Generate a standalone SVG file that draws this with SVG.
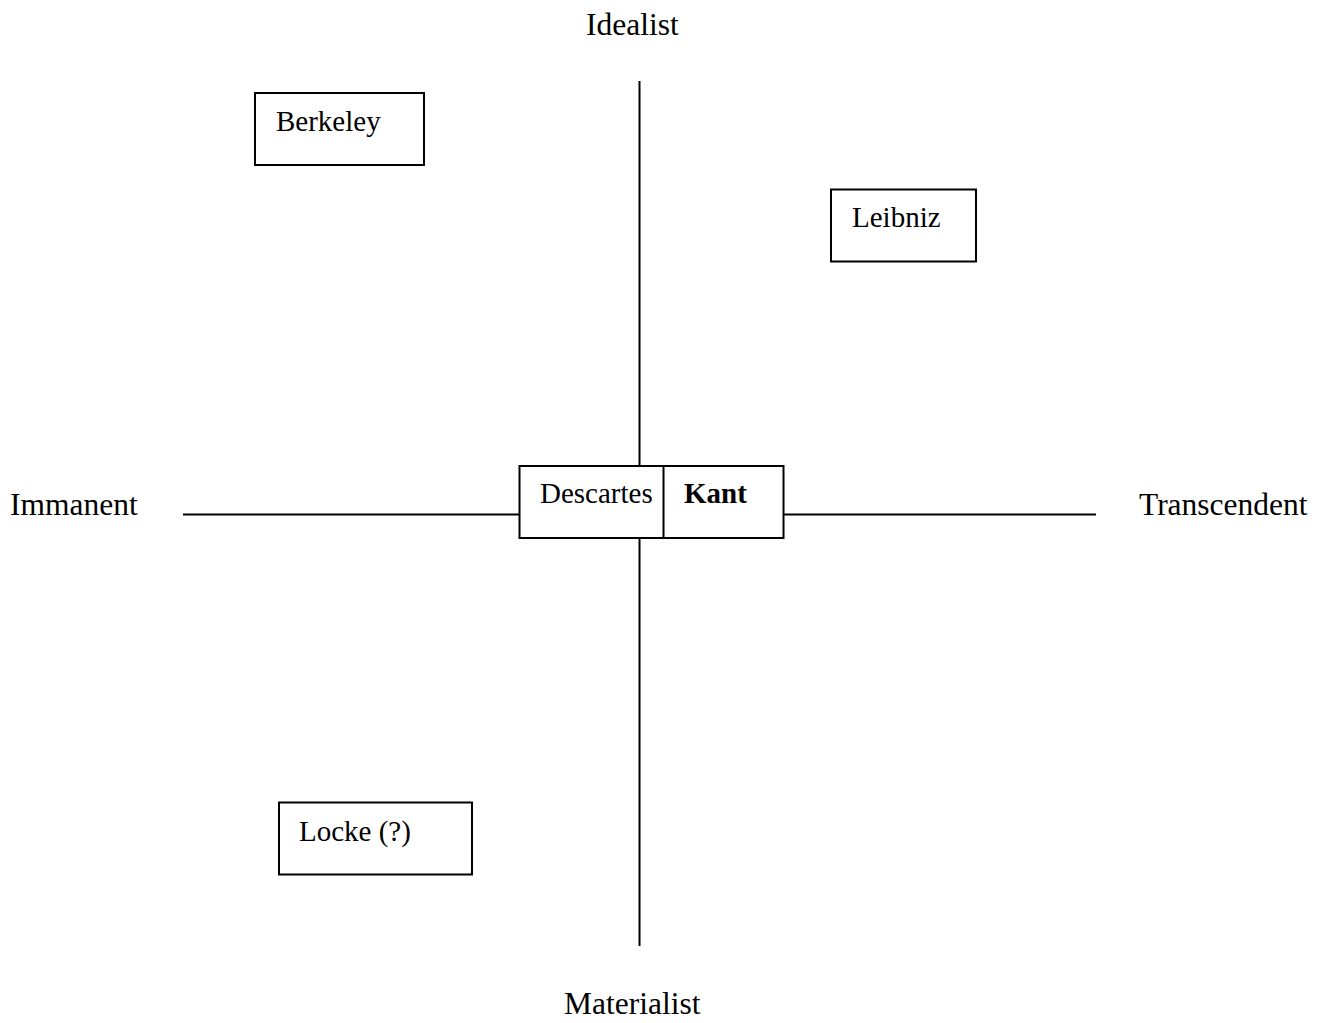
<svg xmlns="http://www.w3.org/2000/svg" width="1324" height="1023" viewBox="0 0 1324 1023">
<style>
.ax{stroke:#000;stroke-width:2;fill:none}
.box{stroke:#000;stroke-width:2;fill:#fff}
.lbl{font-family:"Liberation Serif","Times New Roman",serif;font-size:31.5px;fill:#000}
.t{font-family:"Liberation Serif","Times New Roman",serif;font-size:29px;fill:#000}
.b{font-weight:bold}
</style>
<rect width="1324" height="1023" fill="#fff"/>
<g id="connectors">
<line class="ax" x1="639.5" y1="81" x2="639.5" y2="946"/>
<line class="ax" x1="183" y1="514.5" x2="1096" y2="514.5"/>
</g>
<g id="labels">
<text class="lbl" x="586" y="35">Idealist</text>
<text class="lbl" x="564" y="1014">Materialist</text>
<text class="lbl" x="10" y="515">Immanent</text>
<text class="lbl" x="1139" y="515">Transcendent</text>
</g>
<g id="berkeley">
<rect class="box" x="255" y="93" width="169" height="72"/>
<text class="t" x="276" y="131">Berkeley</text>
</g>
<g id="leibniz">
<rect class="box" x="831" y="189.5" width="145" height="72"/>
<text class="t" x="852" y="227">Leibniz</text>
</g>
<g id="locke">
<rect class="box" x="279" y="802.5" width="193" height="72"/>
<text class="t" x="299" y="841">Locke (?)</text>
</g>
<g id="descartes">
<rect class="box" x="519.5" y="466" width="168.5" height="72"/>
<text class="t" x="540" y="503">Descartes</text>
</g>
<g id="kant">
<rect class="box" x="663.5" y="466" width="120" height="72"/>
<text class="t b" x="684" y="503">Kant</text>
</g>
</svg>
